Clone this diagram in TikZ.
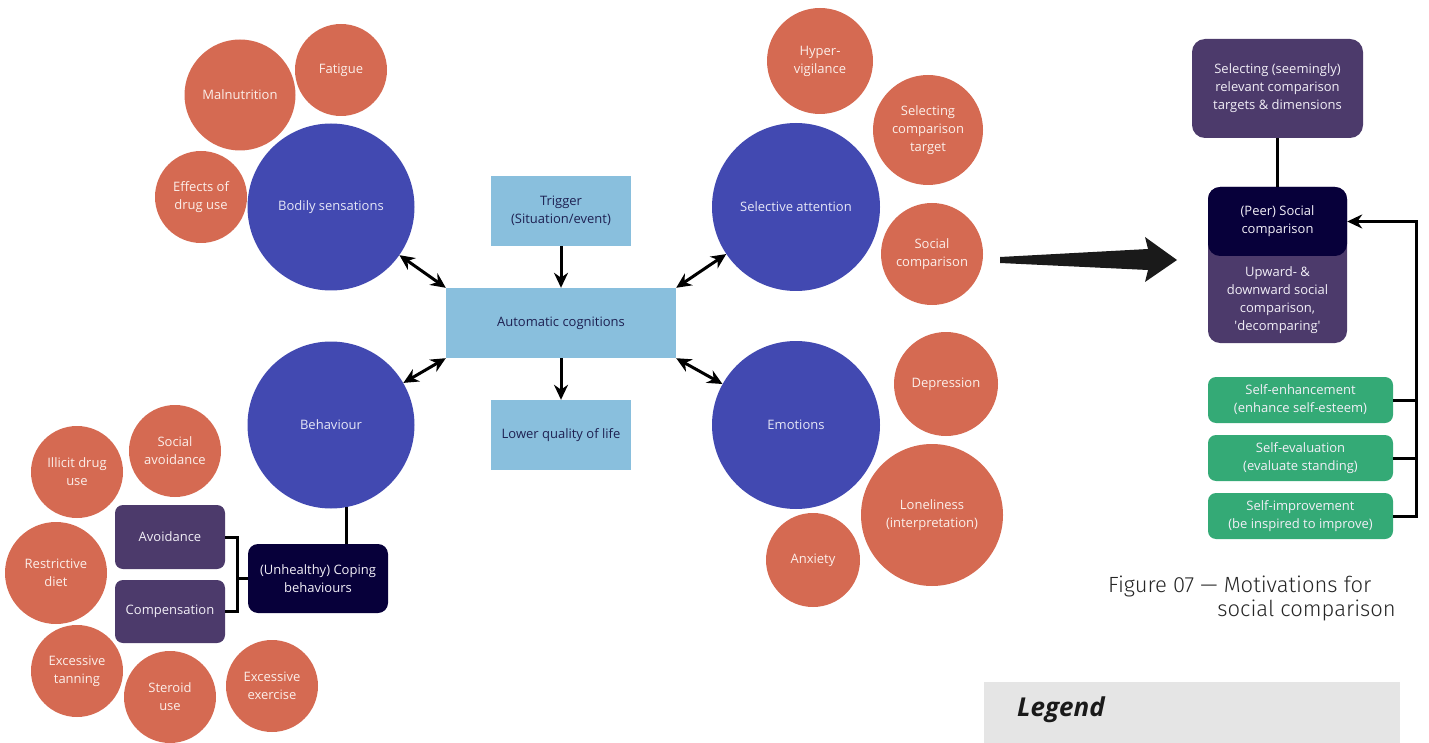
\documentclass[tikz,border=0pt]{standalone}
\usepackage{fontspec}
\setmainfont{Open Sans}
\newfontfamily\capfont{Fira Sans Light}
\usetikzlibrary{arrows.meta,calc}

\definecolor{salmon}{HTML}{D56A52}
\definecolor{salmontext}{HTML}{FCEFEA}
\definecolor{cblue}{HTML}{4249B1}
\definecolor{cbluetext}{HTML}{E6E7F7}
\definecolor{lblue}{HTML}{89BFDD}
\definecolor{lbluetext}{HTML}{1E2152}
\definecolor{cpurple}{HTML}{4C3A6B}
\definecolor{cnavy}{HTML}{07003A}
\definecolor{cgreen}{HTML}{34AA76}
\definecolor{boxtext}{HTML}{F2EFF7}
\definecolor{legendgray}{HTML}{E5E5E5}
\definecolor{arrowblack}{HTML}{1A1A1A}

\begin{document}
\begin{tikzpicture}[x=1pt,y=-1pt,
  txt/.style={font=\fontsize{13}{18}\selectfont, align=center},
  redc/.style={circle, fill=salmon, text=salmontext, minimum size=#1, inner sep=0pt, txt},
  bluec/.style={circle, fill=cblue, text=cbluetext, minimum size=#1, inner sep=0pt, txt},
  lbox/.style={rectangle, fill=lblue, text=lbluetext, inner sep=0pt, txt},
  rbox/.style={rectangle, rounded corners=#1, text=boxtext, inner sep=0pt, txt},
  link/.style={line width=3pt, draw=black},
  dbl/.style={link, {Stealth[length=15pt,width=14pt]}-{Stealth[length=15pt,width=14pt]}},
  sgl/.style={link, -{Stealth[length=15pt,width=14pt]}}
]
\useasboundingbox (0,0) rectangle (1429,743);

% ---- centre column ----
\node[lbox, minimum width=140pt, minimum height=70pt] (trig) at (561,211) {Trigger\\(Situation/event)};
\node[lbox, minimum width=230pt, minimum height=70pt] (auto) at (561,323) {Automatic cognitions};
\node[lbox, minimum width=140pt, minimum height=70pt] (lql) at (561,435) {Lower quality of life};

% ---- main circles ----
\node[bluec=167pt] (body) at (331,207) {Bodily sensations};
\node[bluec=167pt] (behav) at (331,425) {Behaviour};
\node[bluec=168pt] (sel) at (796,207) {Selective attention};
\node[bluec=168pt] (emo) at (796,425) {Emotions};

% ---- satellites: bodily sensations ----
\node[redc=111pt] (maln) at (240,95) {Malnutrition};
\node[redc=92pt] (fat) at (341,70) {Fatigue};
\node[redc=92pt] (drugfx) at (201,197) {Effects of\\drug use};

% ---- satellites: selective attention ----
\node[redc=106pt] (hyper) at (820,61) {Hyper-\\vigilance};
\node[redc=110pt] (seltarg) at (928,130) {Selecting\\comparison\\target};
\node[redc=102pt] (socc) at (932,254) {Social\\comparison};

% ---- satellites: emotions ----
\node[redc=104pt] (dep) at (946,384) {Depression};
\node[redc=142pt] (lone) at (932,515) {Loneliness\\(interpretation)};
\node[redc=94pt] (anx) at (813,560) {Anxiety};

% ---- coping behaviours ----
\node[rbox=10pt, fill=cnavy, minimum width=140pt, minimum height=69pt] (coping) at (318,578.5) {(Unhealthy) Coping\\behaviours};
\node[rbox=8pt, fill=cpurple, minimum width=110pt, minimum height=64pt] (avoid) at (170,537) {Avoidance};
\node[rbox=8pt, fill=cpurple, minimum width=110pt, minimum height=63pt] (comp) at (170,611.5) {Compensation};

\node[redc=92pt] (illicit) at (77,472) {Illicit drug\\use};
\node[redc=92pt] (socav) at (175,451) {Social\\avoidance};
\node[redc=102pt] (restr) at (56,573) {Restrictive\\diet};
\node[redc=92pt] (tan) at (77,671) {Excessive\\tanning};
\node[redc=92pt] (ster) at (170,697) {Steroid\\use};
\node[redc=92pt] (exer) at (272,686) {Excessive\\exercise};

% ---- connectors, left part ----
\draw[sgl] (trig.south) -- (auto.north);
\draw[sgl] (auto.south) -- (lql.north);
\draw[dbl] (auto.north west) -- (body);
\draw[dbl] (auto.south west) -- (behav);
\draw[dbl] (auto.north east) -- (sel);
\draw[dbl] (auto.south east) -- (emo);

\draw[link] (behav.-79) -- (behav.-79 |- coping.north);
\coordinate (brk) at (237,578.5);
\draw[link] (avoid.east) -| (brk) |- (comp.east);
\draw[link] (coping.west) -- (brk);

% ---- social comparison panel ----
\node[rbox=13pt, fill=cpurple, minimum width=171pt, minimum height=99pt] (selbox) at (1277.5,88.5)
  {Selecting (seemingly)\\relevant comparison\\targets \& dimensions};
\node[rbox=12pt, fill=cpurple, minimum width=139pt, minimum height=156pt] (peerbg) at (1277.5,265) {};
\node[rbox=12pt, fill=cnavy, minimum width=139pt, minimum height=69pt] (peer) at (1277.5,221.5)
  {(Peer) Social\\comparison};
\node[txt, text=boxtext] (updown) at (1277.5,300)
  {Upward- \&\\downward social\\comparison,\\\textquotesingle decomparing\textquotesingle};
\draw[link] (selbox.south) -- (peer.north);

\node[rbox=8pt, fill=cgreen, minimum width=185pt, minimum height=46pt] (senh) at (1300.5,400) {Self-enhancement\\(enhance self-esteem)};
\node[rbox=8pt, fill=cgreen, minimum width=185pt, minimum height=46pt] (seval) at (1300.5,458) {Self-evaluation\\(evaluate standing)};
\node[rbox=8pt, fill=cgreen, minimum width=185pt, minimum height=46pt] (simp) at (1300.5,516) {Self-improvement\\(be inspired to improve)};

\coordinate (fbtop) at (1416,221.5);
\draw[link, -{Stealth[length=15pt,width=14pt]}] (simp.east) -| (fbtop) -- (peer.east);
\draw[link] (senh.east) -- (senh.east -| fbtop);
\draw[link] (seval.east) -- (seval.east -| fbtop);

% tapered arrow from the social comparison cluster into the panel
\coordinate (bigtail) at (1000,260);
\coordinate (bigtip) at (1177,260);
\fill[arrowblack] ($(bigtail)+(0,-3)$) -- ($(bigtip)+(-29,-11)$) -- ($(bigtip)+(-32,-23)$)
  -- (bigtip) -- ($(bigtip)+(-32,22)$) -- ($(bigtip)+(-29,10)$) -- ($(bigtail)+(0,3)$) -- cycle;

% ---- caption ----
\node[anchor=base west, inner sep=0pt, font=\capfont\fontsize{22}{26}\selectfont, text=black!85] (cap1) at (1108,592) {Figure 07 — Motivations for};
\node[anchor=base east, inner sep=0pt, font=\capfont\fontsize{22}{26}\selectfont, text=black!85] (cap2) at (1396,616) {social comparison};

% ---- legend ----
\node[rectangle, fill=legendgray, minimum width=416pt, minimum height=61pt, inner sep=0pt] (legend) at (1192,712.5) {};
\node[anchor=base west, inner sep=0pt, font=\bfseries\itshape\fontsize{26}{30}\selectfont, text=arrowblack] (legtxt) at (1017,716) {Legend};
\end{tikzpicture}
\end{document}
